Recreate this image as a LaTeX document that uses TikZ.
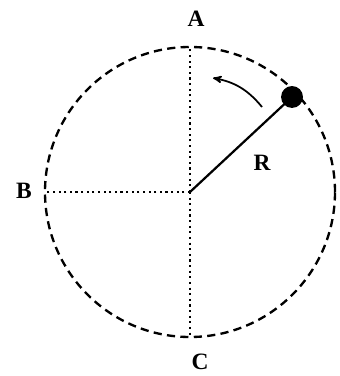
\documentclass[tikz,border=0pt]{standalone}
\usepackage{fontspec}
\setmainfont{Liberation Serif}
\usetikzlibrary{arrows}
\tikzset{
  lbl/.style = {font=\fontsize{20}{22}\selectfont\bfseries, inner sep=0},
  orbit/.style = {line width=2pt, dash pattern=on 7pt off 4.5pt},
  axis/.style = {line width=1.8pt, dash pattern=on 1.8pt off 3pt}
}

\begin{document}
\begin{tikzpicture}[x=.03cm, y=.03cm]
\useasboundingbox (-190,-184) rectangle (149,192);
\coordinate (O) at (0,0);
\draw[orbit] (O) circle (145);
\coordinate (top) at (0,145);
\coordinate (left) at (-145,0);
\coordinate (bottom) at (0,-145);
\draw[axis] (O)--(top);
\draw[axis] (O)--(left);
\draw[axis] (O)--(bottom);
\node[lbl] (labA) at (6,173) {A};
\node[lbl] (labB) at (-166,1) {B};
\node[lbl] (labC) at (10,-170) {C};
\node[lbl] (labR) at (72,29) {R};
\node[circle, fill=black, minimum size=22*.85pt, inner sep=0] (ball) at (102,95) {};
\draw[line width=1.9pt] (O)--(ball.center);
\coordinate (tail) at (72,85);
\coordinate (tip) at (23,114);
\draw[line width=1.5pt,->,>=stealth'] (tail) to[bend right=20] (tip);
\end{tikzpicture}
\end{document}
